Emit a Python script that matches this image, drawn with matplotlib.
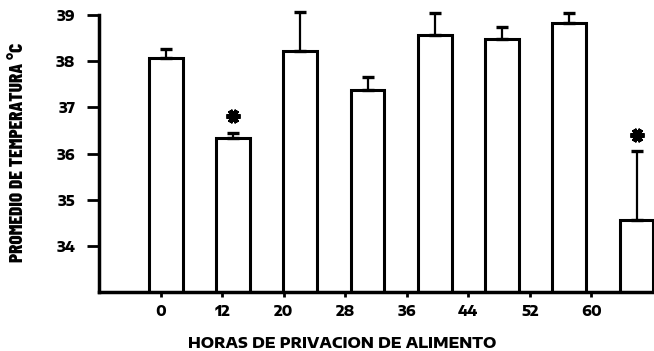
import matplotlib
matplotlib.use("Agg")
import matplotlib.pyplot as plt
import matplotlib.transforms as mtransforms
import numpy as np

# Horas de privación de alimento y temperatura media (°C)
horas = ["0", "12", "20", "28", "36", "44", "52", "60"]
temperatura = [38.06, 36.33, 38.21, 37.38, 38.57, 38.47, 38.83, 34.55]
error_sup = [0.20, 0.12, 0.86, 0.28, 0.47, 0.26, 0.21, 1.50]
significativo = [False, True, False, False, False, False, False, True]
y_ticks = [34, 35, 36, 37, 38, 39]

fuente_num = ["Encode Sans Expanded", "Encode Sans Semi Expanded", "DejaVu Sans"]
fuente_eje_y = ["Barlow Condensed", "DejaVu Sans"]

fig = plt.figure(figsize=(6.54, 3.51), dpi=100)
ax = fig.add_axes([99 / 654, 59 / 351, 555 / 654, 277 / 351])

x = np.arange(len(horas))
vals = np.array(temperatura)
errs = np.array(error_sup)

ax.bar(x, vals, width=0.5, color="white", edgecolor="black", linewidth=2.2, zorder=2)
_, caps, barras = ax.errorbar(x, vals, yerr=[np.zeros_like(errs), errs], fmt="none",
                              ecolor="black", elinewidth=1.6, capsize=4.5, capthick=2.4,
                              zorder=3)
for artista in list(caps) + list(barras):
    artista.set_clip_on(False)

# Asteriscos de significación sobre las barras de error
sig = np.array(significativo)
sobre_error = mtransforms.offset_copy(ax.transData, fig=fig, x=0, y=12, units="points")
ax.plot(x[sig], (vals + errs)[sig], linestyle="none", marker=(6, 2, 90),
        markersize=10, markeredgewidth=3.4, color="black", transform=sobre_error,
        clip_on=False, zorder=4)

ax.set_ylim(33, 39)
ax.set_xlim(-0.993, 7.26)
ax.set_yticks(y_ticks)
ax.set_yticklabels([str(t) for t in y_ticks], family=fuente_num, fontweight=800,
                   fontsize=10)
ax.tick_params(axis="y", direction="out", length=9, width=2, pad=8, colors="black")
ax.set_xticks([])

for side in ("top", "right"):
    ax.spines[side].set_visible(False)
for side in ("left", "bottom"):
    ax.spines[side].set_linewidth(2.5)
    ax.spines[side].set_capstyle("projecting")

# Escala de rótulos de las horas bajo el eje
ax_h = ax.twiny()
ax_h.set_xlim(-1.003, 8.021)
ax_h.set_xticks(np.arange(len(horas)))
ax_h.set_xticklabels(horas, family=fuente_num, fontweight=800, fontsize=10)
ax_h.xaxis.set_ticks_position("bottom")
ax_h.xaxis.set_label_position("bottom")
ax_h.tick_params(axis="x", direction="out", length=3.6, width=2, pad=5)
for sp in ax_h.spines.values():
    sp.set_visible(False)

ax_h.set_xlabel("HORAS DE PRIVACION DE ALIMENTO", family=fuente_num, fontweight=800,
                fontsize=10.5, va="center")
ax_h.xaxis.set_label_coords((342.5 - 99) / 555, -51 / 277)

ax.set_ylabel("PROMEDIO DE TEMPERATURA °C", family=fuente_eje_y, fontweight=800,
              fontsize=14, va="center")
ax.yaxis.set_label_coords((18 - 99) / 555, (292 - 152) / 277)

fig.savefig("out.png", dpi=100)
